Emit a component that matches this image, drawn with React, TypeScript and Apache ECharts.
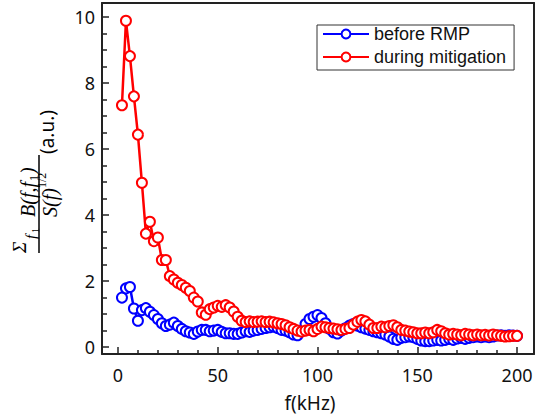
import React, { useEffect, useRef } from "react";
import * as echarts from "echarts";

// frequency (kHz) of each sample
const freqKHz = [
  2, 4, 6, 8, 10, 12, 14, 16, 18, 20, 22, 24, 26, 28, 30, 32, 34, 36, 38, 40,
  42, 44, 46, 48, 50, 52, 54, 56, 58, 60, 62, 64, 66, 68, 70, 72, 74, 76, 78, 80,
  82, 84, 86, 88, 90, 92, 94, 96, 98, 100, 102, 104, 106, 108, 110, 112, 114, 116, 118, 120,
  122, 124, 126, 128, 130, 132, 134, 136, 138, 140, 142, 144, 146, 148, 150, 152, 154, 156, 158, 160,
  162, 164, 166, 168, 170, 172, 174, 176, 178, 180, 182, 184, 186, 188, 190, 192, 194, 196, 198, 200,
];

const beforeRMP = [
  1.5, 1.78, 1.82, 1.17, 0.8, 1.12, 1.18, 1.07, 0.97, 0.85, 0.72, 0.64, 0.68, 0.74, 0.64, 0.55, 0.48, 0.44, 0.4, 0.47,
  0.52, 0.52, 0.48, 0.5, 0.52, 0.46, 0.42, 0.42, 0.4, 0.4, 0.44, 0.48, 0.46, 0.5, 0.52, 0.55, 0.58, 0.6, 0.62, 0.58,
  0.52, 0.5, 0.45, 0.38, 0.36, 0.5, 0.7, 0.85, 0.92, 0.97, 0.88, 0.72, 0.55, 0.45, 0.41, 0.5, 0.57, 0.65, 0.7, 0.65,
  0.6, 0.56, 0.52, 0.48, 0.45, 0.42, 0.38, 0.32, 0.25, 0.22, 0.28, 0.3, 0.32, 0.3, 0.25, 0.2, 0.18, 0.18, 0.2, 0.22,
  0.2, 0.22, 0.25, 0.22, 0.26, 0.28, 0.25, 0.28, 0.3, 0.32, 0.3, 0.32, 0.3, 0.32, 0.35, 0.36, 0.34, 0.36, 0.35, 0.34,
];

const duringMitigation = [
  7.33, 9.89, 8.82, 7.6, 6.44, 4.98, 3.44, 3.8, 3.21, 3.32, 2.64, 2.64, 2.15, 2.05, 1.95, 1.88, 1.8, 1.7, 1.5, 1.38,
  1.05, 0.98, 1.15, 1.2, 1.25, 1.22, 1.27, 1.2, 1.08, 0.92, 0.8, 0.76, 0.78, 0.76, 0.77, 0.78, 0.76, 0.77, 0.75, 0.72,
  0.7, 0.66, 0.6, 0.55, 0.5, 0.47, 0.5, 0.52, 0.48, 0.55, 0.62, 0.6, 0.58, 0.56, 0.54, 0.52, 0.55, 0.58, 0.68, 0.77,
  0.82, 0.78, 0.68, 0.58, 0.58, 0.62, 0.6, 0.64, 0.66, 0.6, 0.52, 0.5, 0.47, 0.45, 0.42, 0.42, 0.44, 0.42, 0.45, 0.52,
  0.48, 0.42, 0.38, 0.4, 0.38, 0.36, 0.4, 0.38, 0.36, 0.38, 0.36, 0.37, 0.35, 0.38, 0.36, 0.34, 0.32, 0.33, 0.34, 0.34,
];

const seriesNames = ["before RMP", "during mitigation"];
const seriesColors = ["#0000ff", "#ff0000"];
const xAxisTitle = "f(kHz)";

// tick positions
const xMajorTicks = [0, 50, 100, 150, 200];
const xMinorTicks = [10, 20, 30, 40, 60, 70, 80, 90, 110, 120, 130, 140, 160, 170, 180, 190];
const yMajorTicks = [0, 2, 4, 6, 8, 10];
const yMinorTicks = [0.5, 1, 1.5, 2.5, 3, 3.5, 4.5, 5, 5.5, 6.5, 7, 7.5, 8.5, 9, 9.5];

const SERIF = '"Liberation Serif", "DejaVu Serif", serif';
const SANS = '"Noto Sans", "Open Sans", sans-serif';

function t(text: string, x: number, y: number, font: string) {
  return {
    type: "text",
    x,
    y,
    style: { text, font, fill: "#000", textAlign: "left", verticalAlign: "middle" },
  };
}

const tickLine = { color: "#222", width: 1.5 };
const frameLine = { show: true, onZero: false, lineStyle: { color: "#222", width: 2 } };
const noLine = { show: false, onZero: false };

export default function App() {
  const ref = useRef<HTMLDivElement>(null);
  useEffect(() => {
    if (!ref.current) return;
    const chart = echarts.init(ref.current, null, { renderer: "svg" });
    const mk = (vals: number[]) => freqKHz.map((f, i) => [f, vals[i]]);
    const xBase = { type: "value", min: -8, max: 208.5, splitLine: { show: false } };
    const yBase = { type: "value", min: -0.21, max: 10.43, splitLine: { show: false } };
    chart.setOption({
      animation: false,
      backgroundColor: "#fff",
      grid: { left: 102, right: 7, top: 3, bottom: 62 },
      xAxis: [
        {
          ...xBase,
          position: "bottom",
          axisLine: frameLine,
          axisTick: { show: true, inside: true, length: 7, customValues: xMajorTicks, lineStyle: tickLine },
          axisLabel: {
            show: true,
            customValues: xMajorTicks,
            color: "#111",
            fontSize: 18,
            fontFamily: SANS,
            margin: 12,
          },
        },
        {
          ...xBase,
          position: "bottom",
          axisLine: noLine,
          axisTick: { show: true, inside: true, length: 4, customValues: xMinorTicks, lineStyle: tickLine },
          axisLabel: { show: false },
        },
        {
          ...xBase,
          position: "top",
          axisLine: frameLine,
          axisTick: { show: false },
          axisLabel: { show: false },
        },
      ],
      yAxis: [
        {
          ...yBase,
          position: "left",
          axisLine: frameLine,
          axisTick: { show: true, inside: true, length: 7, customValues: yMajorTicks, lineStyle: tickLine },
          axisLabel: {
            show: true,
            customValues: yMajorTicks,
            color: "#111",
            fontSize: 18,
            fontFamily: SANS,
            margin: 7,
          },
        },
        {
          ...yBase,
          position: "left",
          axisLine: noLine,
          axisTick: { show: true, inside: true, length: 5, customValues: yMinorTicks, lineStyle: tickLine },
          axisLabel: { show: false },
        },
        {
          ...yBase,
          position: "right",
          axisLine: frameLine,
          axisTick: { show: false },
          axisLabel: { show: false },
        },
      ],
      legend: {
        data: seriesNames,
        orient: "vertical",
        left: 317,
        top: 25,
        padding: [0, 8, 4, 5],
        itemGap: 5,
        itemWidth: 46,
        itemHeight: 11,
        backgroundColor: "#fff",
        borderColor: "#333",
        borderWidth: 1,
        borderRadius: 0,
        textStyle: { color: "#111", fontSize: 18, fontFamily: '"Liberation Sans", Arial, sans-serif' },
      },
      series: seriesNames.map((name, k) => ({
        name,
        type: "line",
        xAxisIndex: 0,
        yAxisIndex: 0,
        data: mk(k === 0 ? beforeRMP : duringMitigation),
        symbol: "emptyCircle",
        symbolSize: 10,
        clip: false,
        lineStyle: { color: seriesColors[k], width: 2.5 },
        itemStyle: { color: seriesColors[k], borderColor: seriesColors[k], borderWidth: 2 },
        z: 2 + k,
      })),
      graphic: [
        {
          type: "text",
          x: 310,
          y: 403,
          style: {
            text: xAxisTitle,
            font: `19px ${SANS}`,
            fill: "#111",
            textAlign: "center",
            verticalAlign: "middle",
          },
        },
        {
          type: "group",
          x: 39,
          y: 253,
          rotation: Math.PI / 2,
          children: [
            t("Σ", 0, -20, `italic 19px ${SERIF}`),
            t("f", 14, -8, `italic 15px ${SERIF}`),
            t("1", 20, -4, `10px ${SERIF}`),
            t("B(f,f", 36, -11, `italic 20px ${SERIF}`),
            t("1", 72, -5, `12px ${SERIF}`),
            t(")", 79, -11, `italic 20px ${SERIF}`),
            {
              type: "line",
              shape: { x1: 0, y1: 0, x2: 98, y2: 0 },
              style: { stroke: "#000", lineWidth: 1.5 },
            },
            t("S(f)", 36, 11, `italic 20px ${SERIF}`),
            t("1/2", 65, 3, `12px ${SERIF}`),
            t("(a.u.)", 99, 8, `19px ${SANS}`),
          ],
        },
      ],
    });
    return () => chart.dispose();
  }, []);
  return (
    <div
      ref={ref}
      style={{ position: "fixed", left: 0, top: 0, width: 541, height: 416 }}
    />
  );
}
